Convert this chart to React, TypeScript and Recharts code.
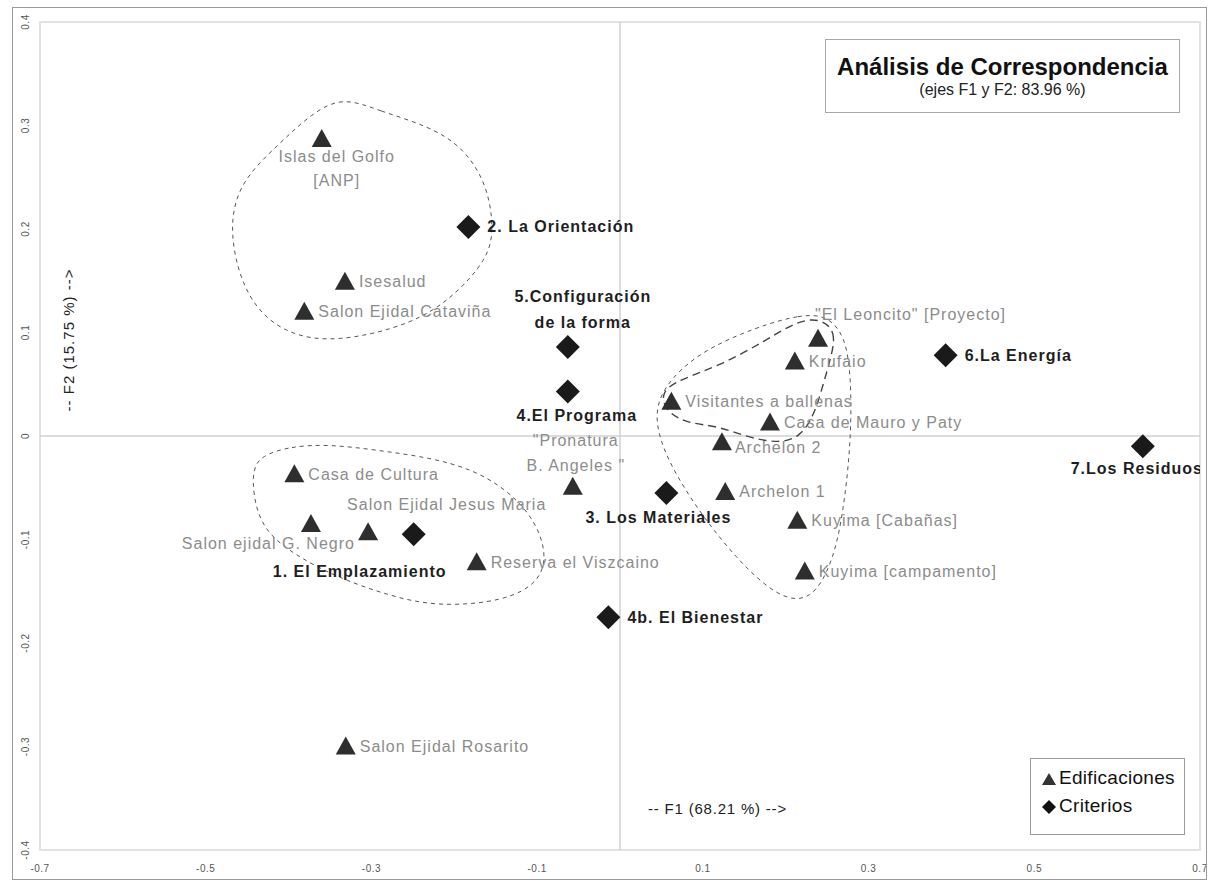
import React from 'react';
import {
  ComposedChart,
  Scatter,
  Line,
  XAxis,
  YAxis,
  ReferenceLine,
  ReferenceArea,
  Legend,
} from 'recharts';

const FONT = '"Liberation Sans", Arial, sans-serif';

// Edificaciones (triangles)
const edifNames = [
  'Islas del Golfo\n[ANP]',
  'Isesalud',
  'Salon Ejidal Cataviña',
  'Casa de Cultura',
  'Salon ejidal G. Negro',
  'Salon Ejidal Jesus Maria',
  'Reserva el Viszcaino',
  '"Pronatura\nB. Angeles "',
  'Salon Ejidal Rosarito',
  '"El Leoncito" [Proyecto]',
  'Krufaio',
  'Visitantes a ballenas',
  'Casa de Mauro y Paty',
  'Archelon 2',
  'Archelon 1',
  'Kuyima [Cabañas]',
  'Kuyima [campamento]',
];
const edifF1 = [-0.36, -0.332, -0.381, -0.393, -0.373, -0.304, -0.173, -0.057, -0.331, 0.239, 0.211, 0.062, 0.181, 0.123, 0.127, 0.214, 0.223];
const edifF2 = [0.287, 0.149, 0.12, -0.037, -0.085, -0.093, -0.122, -0.049, -0.3, 0.094, 0.072, 0.033, 0.013, -0.006, -0.054, -0.082, -0.131];

// Criterios (diamonds)
const critNames = [
  '1. El Emplazamiento',
  '2. La Orientación',
  '3. Los Materiales',
  '4.El Programa',
  '5.Configuración\nde la forma',
  '4b. El Bienestar',
  '6.La Energía',
  '7.Los Residuos',
];
const critF1 = [-0.249, -0.183, 0.056, -0.063, -0.063, -0.014, 0.393, 0.631];
const critF2 = [-0.095, 0.202, -0.055, 0.043, 0.086, -0.175, 0.078, -0.01];

const xTicks = [-0.7, -0.5, -0.3, -0.1, 0.1, 0.3, 0.5, 0.7];
const yTicks = [-0.4, -0.3, -0.2, -0.1, 0, 0.1, 0.2, 0.3, 0.4];

// hand-drawn cluster outlines (closed)
const hullTopF1 = [-0.334, -0.29, -0.233, -0.19, -0.16, -0.152, -0.16, -0.2, -0.25, -0.342, -0.405, -0.452, -0.473, -0.46, -0.413, -0.372];
const hullTopF2 = [0.328, 0.314, 0.3, 0.28, 0.243, 0.199, 0.171, 0.135, 0.108, 0.09, 0.098, 0.132, 0.197, 0.245, 0.281, 0.312];
const hullLowF1 = [-0.433, -0.398, -0.35, -0.29, -0.229, -0.179, -0.138, -0.105, -0.088, -0.096, -0.14, -0.221, -0.28, -0.34, -0.393, -0.432, -0.443, -0.443];
const hullLowF2 = [-0.019, -0.01, -0.008, -0.014, -0.021, -0.032, -0.051, -0.078, -0.112, -0.141, -0.16, -0.165, -0.154, -0.137, -0.115, -0.09, -0.056, -0.032];
const hullRightF1 = [0.249, 0.217, 0.167, 0.094, 0.05, 0.041, 0.056, 0.094, 0.143, 0.192, 0.231, 0.257, 0.27, 0.279, 0.279, 0.272];
const hullRightF2 = [0.117, 0.117, 0.106, 0.081, 0.046, 0.016, -0.022, -0.072, -0.121, -0.157, -0.16, -0.122, -0.072, -0.003, 0.056, 0.097];
const hullInnerF1 = [0.241, 0.261, 0.255, 0.246, 0.234, 0.217, 0.193, 0.157, 0.117, 0.081, 0.055, 0.049, 0.07, 0.124, 0.177, 0.214];
const hullInnerF2 = [0.114, 0.101, 0.077, 0.052, 0.019, -0.001, -0.007, -0.002, 0.01, 0.012, 0.024, 0.042, 0.054, 0.069, 0.093, 0.111];

const edifData = edifNames.map((name, i) => ({ name, x: edifF1[i], y: edifF2[i] }));
const critData = critNames.map((name, i) => ({ name, x: critF1[i], y: critF2[i] }));
const toPts = (xs: number[], ys: number[]) => xs.map((x, i) => ({ x, y: ys[i] }));

// label placement: [dx, dy, anchor, lineHeight]
type Place = [number, number, 'start' | 'middle' | 'end', number?];
const edifPlace: Record<string, Place> = {
  'Islas del Golfo\n[ANP]': [15, 18, 'middle', 24],
  'Salon ejidal G. Negro': [44, 20, 'end'],
  'Salon Ejidal Jesus Maria': [-21, -28, 'start'],
  '"Pronatura\nB. Angeles "': [3, -46, 'middle', 25],
  '"El Leoncito" [Proyecto]': [-3, -24, 'start'],
  'Archelon 2': [13, 5, 'start'],
};
const critPlace: Record<string, Place> = {
  '1. El Emplazamiento': [-54, 37, 'middle'],
  '3. Los Materiales': [-8, 25, 'middle'],
  '4.El Programa': [9, 24, 'middle'],
  '5.Configuración\nde la forma': [15, -50, 'middle', 26],
  '7.Los Residuos': [-6, 22, 'middle'],
};

function PointLabel({ cx, cy, name, place, bold }: any) {
  const [dx, dy, anchor, lh = 24] = place;
  const lines = name.split('\n');
  return (
    <text
      textAnchor={anchor}
      fontFamily={FONT}
      fontSize={16}
      fontWeight={bold ? 'bold' : 'normal'}
      fill={bold ? '#1e1e1e' : '#8c8c8c'}
      letterSpacing={1}
    >
      {lines.map((l: string, i: number) => (
        <tspan key={i} x={cx + dx} y={cy + dy + i * lh} dominantBaseline="central">
          {l}
        </tspan>
      ))}
    </text>
  );
}

const TriangleShape = (props: any) => {
  const { cx, cy, payload } = props;
  const place = edifPlace[payload.name] ?? [14, 0, 'start'];
  return (
    <g>
      <path d={`M${cx},${cy - 10} L${cx + 10},${cy + 8} L${cx - 10},${cy + 8} Z`} fill="#2e2e2e" />
      <PointLabel cx={cx} cy={cy} name={payload.name} place={place} />
    </g>
  );
};

const DiamondShape = (props: any) => {
  const { cx, cy, payload } = props;
  const place = critPlace[payload.name] ?? [19, 0, 'start'];
  return (
    <g>
      <path d={`M${cx},${cy - 12} L${cx + 12},${cy} L${cx},${cy + 12} L${cx - 12},${cy} Z`} fill="#1a1a1a" />
      <PointLabel cx={cx} cy={cy} name={payload.name} place={place} bold />
    </g>
  );
};

const renderXTick = ({ x, y, payload }: any) => (
  <text x={x} y={y + 18} textAnchor="middle" dominantBaseline="central" fontFamily={FONT} fontSize={10} fill="#555" letterSpacing={0.5}>
    {String(payload.value)}
  </text>
);

const renderYTick = ({ x, y, payload }: any) => (
  <text
    x={x - 15}
    y={y}
    transform={`rotate(-90 ${x - 15} ${y})`}
    textAnchor="middle"
    dominantBaseline="central"
    fontFamily={FONT}
    fontSize={10}
    fill="#555"
    letterSpacing={0.5}
  >
    {String(payload.value)}
  </text>
);

const renderLegend = () => (
  <div
    style={{
      width: 155,
      height: 77,
      border: '1px solid #9a9a9a',
      boxSizing: 'border-box',
      background: '#fff',
      fontFamily: FONT,
      fontSize: 19,
      letterSpacing: 0.3,
      color: '#111',
      padding: '5px 0 0 10px',
      lineHeight: '28px',
    }}
  >
    <div>
      <svg width={16} height={14} style={{ verticalAlign: 'middle', marginRight: 2 }}>
        <path d="M8,1 L15,13 L1,13 Z" fill="#333" />
      </svg>
      Edificaciones
    </div>
    <div>
      <svg width={16} height={14} style={{ verticalAlign: 'middle', marginRight: 2 }}>
        <path d="M8,0 L15,7 L8,14 L1,7 Z" fill="#111" />
      </svg>
      Criterios
    </div>
  </div>
);

export default function App() {
  return (
    <div style={{ position: 'absolute', left: 0, top: 0, width: 1211, height: 883, background: '#fff' }}>
      <ComposedChart width={1211} height={883} margin={{ top: 22, right: 11, bottom: 8, left: 12 }}>
        <XAxis
          type="number"
          dataKey="x"
          domain={[-0.7, 0.7]}
          ticks={xTicks}
          allowDataOverflow
          axisLine={false}
          tickLine={false}
          tickSize={0}
          tickMargin={0}
          height={25}
          tick={renderXTick}
          label={{
            content: ({ viewBox }: any) => (
              <text
                x={viewBox.x + 608}
                y={viewBox.y - 42}
                dominantBaseline="central"
                fontFamily={FONT}
                fontSize={15}
                letterSpacing={0.8}
                fill="#222"
              >
                -- F1 (68.21 %) --&gt;
              </text>
            ),
          }}
        />
        <YAxis
          type="number"
          dataKey="y"
          domain={[-0.4, 0.4]}
          ticks={yTicks}
          allowDataOverflow
          axisLine={false}
          tickLine={false}
          tickSize={0}
          tickMargin={0}
          width={28}
          tick={renderYTick}
          label={{
            content: ({ viewBox }: any) => {
              const lx = viewBox.x + viewBox.width + 28;
              const ly = viewBox.y + 318;
              return (
                <text
                  x={lx}
                  y={ly}
                  transform={`rotate(-90 ${lx} ${ly})`}
                  textAnchor="middle"
                  dominantBaseline="central"
                  fontFamily={FONT}
                  fontSize={15}
                  letterSpacing={1}
                  fill="#222"
                >
                  -- F2 (15.75 %) --&gt;
                </text>
              );
            },
          }}
        />
        <ReferenceArea x1={-0.7} x2={0.7} y1={-0.4} y2={0.4} fill="none" stroke="#e2e2e2" strokeWidth={2} />
        <ReferenceLine x={0} stroke="#d0d0d0" strokeWidth={1.5} />
        <ReferenceLine y={0} stroke="#d0d0d0" strokeWidth={1.5} />
        <Line data={toPts(hullTopF1, hullTopF2)} dataKey="y" type="basisClosed" stroke="#555" strokeWidth={1} strokeDasharray="4 4" dot={false} activeDot={false} legendType="none" isAnimationActive={false} />
        <Line data={toPts(hullLowF1, hullLowF2)} dataKey="y" type="basisClosed" stroke="#555" strokeWidth={1} strokeDasharray="4 4" dot={false} activeDot={false} legendType="none" isAnimationActive={false} />
        <Line data={toPts(hullRightF1, hullRightF2)} dataKey="y" type="basisClosed" stroke="#555" strokeWidth={1} strokeDasharray="4 4" dot={false} activeDot={false} legendType="none" isAnimationActive={false} />
        <Line data={toPts(hullInnerF1, hullInnerF2)} dataKey="y" type="basisClosed" stroke="#444" strokeWidth={1.4} strokeDasharray="8 5" dot={false} activeDot={false} legendType="none" isAnimationActive={false} />
        <Scatter name="Edificaciones" data={edifData} shape={TriangleShape} legendType="triangle" isAnimationActive={false} />
        <Scatter name="Criterios" data={critData} shape={DiamondShape} legendType="diamond" isAnimationActive={false} />
        <Legend
          content={renderLegend}
          layout="horizontal"
          verticalAlign="middle"
          align="center"
          wrapperStyle={{ left: 1030, top: 758, width: 155, height: 77 }}
        />
      </ComposedChart>
      <div
        style={{
          position: 'absolute',
          left: 825,
          top: 39,
          width: 355,
          height: 74,
          boxSizing: 'border-box',
          border: '1px solid #a8a8a8',
          background: '#fff',
          fontFamily: FONT,
          textAlign: 'center',
          color: '#111',
        }}
      >
        <div style={{ fontSize: 24, fontWeight: 'bold', marginTop: 13, lineHeight: '27px' }}>Análisis de Correspondencia</div>
        <div style={{ fontSize: 16, lineHeight: '20px', color: '#222' }}>(ejes F1 y F2: 83.96 %)</div>
      </div>
      <div
        style={{
          position: 'absolute',
          left: 12,
          top: 7,
          width: 1195,
          height: 873,
          boxSizing: 'border-box',
          border: '1px solid #999',
          pointerEvents: 'none',
        }}
      />
    </div>
  );
}
